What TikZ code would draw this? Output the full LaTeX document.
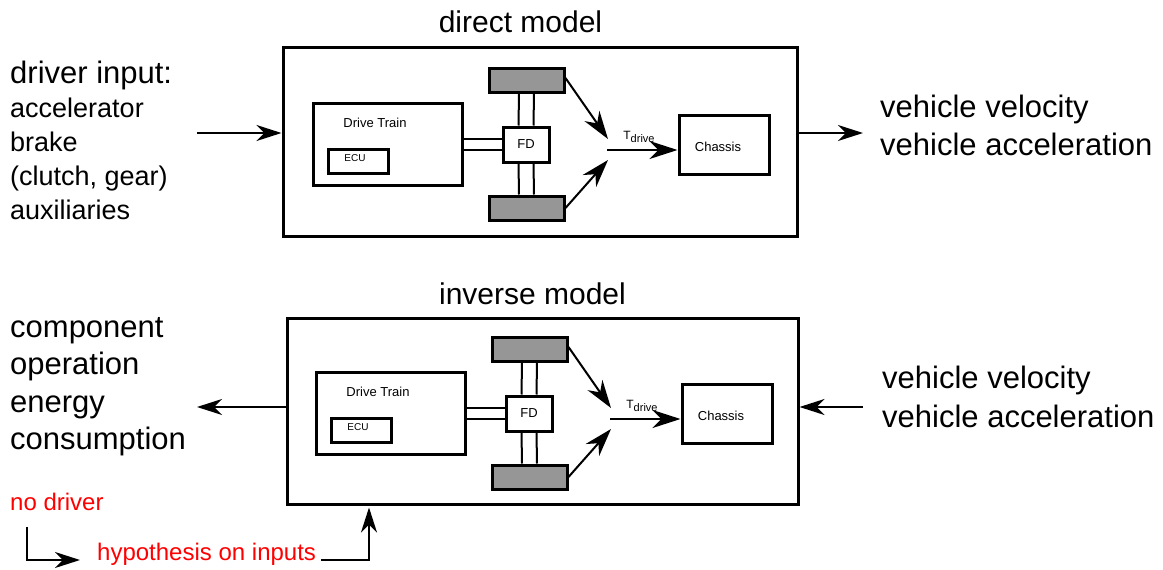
\documentclass[tikz,border=0pt]{standalone}
\usepackage{fontspec}
\setmainfont{Liberation Sans}
\usetikzlibrary{arrows.meta}
\definecolor{wheelgray}{RGB}{150,150,150}
\definecolor{notered}{RGB}{255,0,0}

\tikzset{
  heavybox/.style={draw, line width=3pt, inner sep=0pt, fill=white},
  lightbox/.style={draw, line width=3pt, inner sep=0pt, fill=white},
  wheel/.style={draw, line width=3pt, inner sep=0pt, fill=wheelgray,
                minimum width=75pt, minimum height=24pt},
  shaft/.style={line width=2pt},
  arr/.style={line width=2pt, -{Stealth[length=28pt,width=18pt,inset=9pt]}},
  thinarr/.style={line width=1.8pt, -{Stealth[length=25pt,width=16pt,inset=8pt]}},
  tiny/.style={inner sep=0pt, font=\fontsize{13}{15}\selectfont},
  big/.style={inner sep=0pt, anchor=base west, font=\fontsize{31}{37}\selectfont},
  mid/.style={inner sep=0pt, anchor=base west, font=\fontsize{27}{32}\selectfont},
  title/.style={inner sep=0pt, anchor=base, font=\fontsize{30}{36}\selectfont},
  note/.style={inner sep=0pt, anchor=base west, text=notered,
               font=\fontsize{24}{29}\selectfont},
}

% drive train, final drive, wheels and chassis of one vehicle model
\newcommand\vehiclecore{%
  \node[heavybox, minimum width=149pt, minimum height=82pt] (dt) at (387.5,144) {};
  \node[tiny] (dtl) at (375,123) {Drive Train};
  \node[heavybox, minimum width=60pt, minimum height=24pt] (ecu) at (358,161) {};
  \node[inner sep=0pt, font=\fontsize{10}{12}\selectfont] (ecul) at (355,158) {ECU};
  \node[lightbox, minimum width=46pt, minimum height=35pt, tiny] (fd) at (526,144.5) {FD};
  \node[wheel] (tw) at (526.5,80) {};
  \node[wheel] (bw) at (526.5,208) {};
  \node[lightbox, minimum width=90pt, minimum height=59pt] (ch) at (724,144.5) {};
  \node[tiny] (chl) at (718,147) {Chassis};
  % axles and propeller shaft
  \draw[shaft] ([xshift=-7.5pt]tw.south) -- ([xshift=-7.5pt]fd.north);
  \draw[shaft] ([xshift=7.5pt]tw.south) -- ([xshift=7.5pt]fd.north);
  \draw[shaft] ([xshift=-7.5pt]fd.south) -- ([xshift=-7.5pt]bw.north);
  \draw[shaft] ([xshift=7.5pt]fd.south) -- ([xshift=7.5pt]bw.north);
  \draw[shaft] ([yshift=5pt]dt.east) -- ([yshift=5pt]dt.east -| fd.west);
  \draw[shaft] ([yshift=-6pt]dt.east) -- ([yshift=-6pt]dt.east -| fd.west);
  % wheel forces combined into the driving torque
  \coordinate (hub) at (607,150);
  \coordinate (hubt) at (608,139);
  \coordinate (hubb) at (608,160);
  \draw[arr] ([yshift=2pt]tw.east) -- (hubt);
  \draw[arr] (bw.east) -- (hubb);
  \draw[arr] (hub) -- (hub -| ch.west);
  \node[inner sep=0pt] (td) at (639,137)
    {\fontsize{12}{14}\selectfont T\raisebox{-2.5pt}{\fontsize{11}{13}\selectfont drive}};
}

\begin{document}
\begin{tikzpicture}[x=1pt, y=-1pt]
\useasboundingbox (0,0) rectangle (1163,570);

% ---------------- direct model ----------------
\node[title] (dtitle) at (520.5,32) {direct model};
\node[heavybox, fill=none, minimum width=514pt, minimum height=189pt] (dbox) at (540,141.5) {};
\begin{scope}[name prefix=d-]
  \vehiclecore
\end{scope}

\node[big] (din1) at (10,83) {driver input:};
\node[mid] (din2) at (10,117) {accelerator};
\node[mid] (din3) at (10,151) {brake};
\node[mid] (din4) at (10,185) {(clutch, gear)};
\node[mid] (din5) at (10,219) {auxiliaries};

\node[big] (dout1) at (880,117) {vehicle velocity};
\node[big] (dout2) at (880,155) {vehicle acceleration};

\coordinate (dinp) at (197,133);
\coordinate (doutp) at (863,133);
\draw[thinarr] (dinp) -- (dinp -| dbox.west);
\draw[thinarr] (doutp -| dbox.east) -- (doutp);

% ---------------- inverse model ----------------
\node[title] (ititle) at (532.5,304) {inverse model};
\node[heavybox, fill=none, minimum width=511pt, minimum height=186pt] (ibox) at (542.5,411) {};
\begin{scope}[shift={(3,269)}, name prefix=i-]
  \vehiclecore
\end{scope}

\node[big] (iout1) at (10,337) {component};
\node[big] (iout2) at (10,374.5) {operation};
\node[big] (iout3) at (10,412) {energy};
\node[big] (iout4) at (10,449.5) {consumption};

\node[big] (iin1) at (882,388) {vehicle velocity};
\node[big] (iin2) at (882,427) {vehicle acceleration};

\coordinate (iinp) at (863,407);
\coordinate (ioutp) at (197,407);
\draw[thinarr] (iinp) -- (iinp -| ibox.east);
\draw[thinarr] (ioutp -| ibox.west) -- (ioutp);

% ---------------- input hypothesis ----------------
\node[note] (nodrv) at (10,510) {no driver};
\node[note] (hyp) at (97,560) {hypothesis on inputs};
\coordinate (nd) at (27,527);
\coordinate (up) at (369,0);
\draw[thinarr] (nd) |- ([xshift=-17pt]hyp.base west);
\draw[thinarr] ([xshift=5pt]hyp.base east) -| ([yshift=-2pt]up |- ibox.south);
\end{tikzpicture}
\end{document}
